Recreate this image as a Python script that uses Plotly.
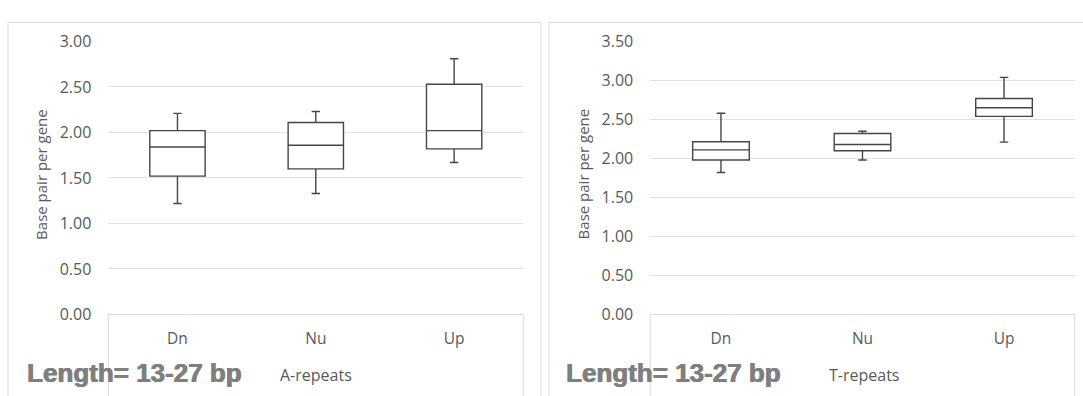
import plotly.graph_objects as go

W, H = 1083, 396

categories = ["Dn", "Nu", "Up"]

# A-repeats (left panel)
a_lower = [1.22, 1.33, 1.67]
a_q1 = [1.52, 1.60, 1.82]
a_median = [1.84, 1.86, 2.02]
a_q3 = [2.02, 2.11, 2.53]
a_upper = [2.21, 2.23, 2.81]

# T-repeats (right panel)
t_lower = [1.82, 1.98, 2.21]
t_q1 = [1.98, 2.10, 2.54]
t_median = [2.11, 2.18, 2.65]
t_q3 = [2.215, 2.32, 2.77]
t_upper = [2.58, 2.35, 3.04]

y_title = "Base pair per gene"
length_label = "Length= 13-27 bp"
panel_labels = ["A-repeats", "T-repeats"]


def px(x):
    return x / W


def py(y):
    return 1 - y / H


BOX_LINE = "#454545"
GRID = "#e2e2e2"
TXT = "#595959"
BORDER = "#d9d9d9"
FONT = "Open Sans"

fig = go.Figure()

common_box = dict(
    fillcolor="white",
    line=dict(color=BOX_LINE, width=1.4),
    width=0.4,
    whiskerwidth=0.15,
    boxpoints=False,
    hoverinfo="skip",
    showlegend=False,
)

fig.add_trace(go.Box(
    x=categories, q1=a_q1, median=a_median, q3=a_q3,
    lowerfence=a_lower, upperfence=a_upper,
    xaxis="x", yaxis="y", **common_box))

fig.add_trace(go.Box(
    x=categories, q1=t_q1, median=t_median, q3=t_q3,
    lowerfence=t_lower, upperfence=t_upper,
    xaxis="x2", yaxis="y2", **common_box))

# plot-area pixel geometry
L1, R1 = 108.3, 523.3
L2, R2 = 650.2, 1074.8
TOP, BOT = 32.3, 321.3

xcommon = dict(
    type="category", categoryorder="array", categoryarray=categories,
    range=[-0.5, 2.5], showgrid=False, zeroline=False, showline=False,
    ticks="", ticklabelstandoff=13,
    tickfont=dict(family=FONT, size=15.5, color=TXT), fixedrange=True,
)
ycommon = dict(
    showgrid=True, gridcolor=GRID, gridwidth=1, zeroline=False,
    showline=False, ticks="", tickformat=".2f", dtick=0.5, tick0=0,
    ticklabelstandoff=16,
    tickfont=dict(family=FONT, size=16, color=TXT), fixedrange=True,
)

fig.update_layout(
    width=W, height=H,
    margin=dict(l=0, r=0, t=0, b=0),
    paper_bgcolor="white", plot_bgcolor="white",
    xaxis=dict(domain=[px(L1), px(R1)], anchor="y", **xcommon),
    yaxis=dict(domain=[py(BOT), py(TOP)], anchor="x", range=[0, 3], **ycommon),
    xaxis2=dict(domain=[px(L2), px(R2)], anchor="y2", **xcommon),
    yaxis2=dict(domain=[py(BOT), py(TOP)], anchor="x2", range=[0, 3.5], **ycommon),
    boxmode="overlay",
)

shapes = []
# outer chart panel borders
shapes.append(dict(type="rect", xref="paper", yref="paper",
                   x0=px(8), x1=px(541), y0=py(410), y1=py(12),
                   line=dict(color=BORDER, width=1), layer="below"))
shapes.append(dict(type="rect", xref="paper", yref="paper",
                   x0=px(549), x1=px(1095), y0=py(410), y1=py(12),
                   line=dict(color=BORDER, width=1), layer="below"))
# plot-area lower frame (category axis box)
for l, r in [(L1, R1), (L2, R2)]:
    shapes.append(dict(type="rect", xref="paper", yref="paper",
                       x0=px(l), x1=px(r), y0=py(410), y1=py(BOT),
                       line=dict(color=BORDER, width=1), layer="below"))
fig.update_layout(shapes=shapes)

annotations = []
for cx in [41.5, 583]:
    annotations.append(dict(
        text=y_title, xref="paper", yref="paper", x=px(cx), y=py(173),
        xanchor="center", yanchor="middle", textangle=-90, showarrow=False,
        font=dict(family=FONT, size=15, color=TXT)))
for lx in [25, 564]:
    annotations.append(dict(
        text="<b>" + length_label + "</b>", xref="paper", yref="paper",
        x=px(lx), y=py(383), xanchor="left", yanchor="middle", showarrow=False,
        font=dict(family="Liberation Sans", size=26, color="#7f7f7f",
                  shadow="0.6px 0px 0px #7f7f7f, -0.3px 0px 0px #7f7f7f")))
for lx, lab in zip([278, 827], panel_labels):
    annotations.append(dict(
        text=lab, xref="paper", yref="paper", x=px(lx), y=py(385.5),
        xanchor="left", yanchor="middle", showarrow=False,
        font=dict(family=FONT, size=16, color=TXT)))
fig.update_layout(annotations=annotations)

fig.write_html("out.html", config={"displayModeBar": False})
